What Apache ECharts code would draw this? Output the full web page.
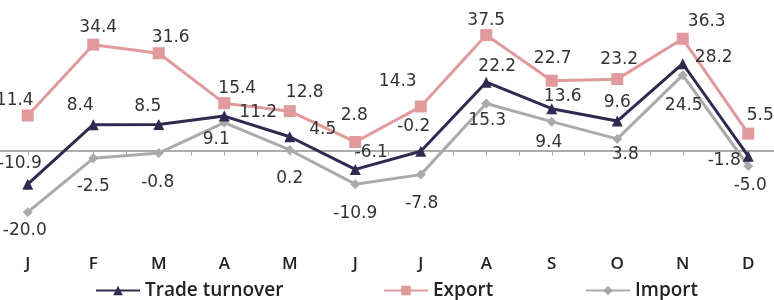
<!DOCTYPE html>
<html>
<head>
<meta charset="utf-8">
<script src="https://cdn.jsdelivr.net/npm/echarts@6/dist/echarts.min.js"></script>
<style>
  html, body { margin: 0; padding: 0; background: #fff; }
  #chart { width: 774px; height: 300px; }
</style>
</head>
<body>
<div id="chart"></div>
<script>
  const months = ['J', 'F', 'M', 'A', 'M', 'J', 'J', 'A', 'S', 'O', 'N', 'D']
  const exportVals = [11.4, 34.4, 31.6, 15.4, 12.8, 2.8, 14.3, 37.5, 22.7, 23.2, 36.3, 5.5]
  const turnoverVals = [-10.9, 8.4, 8.5, 11.2, 4.5, -6.1, -0.2, 22.2, 13.6, 9.6, 28.2, -1.8]
  const importVals = [-20.0, -2.5, -0.8, 9.1, 0.2, -10.9, -7.8, 15.3, 9.4, 3.8, 24.5, -5.0]

  // label nudges (px) relative to each point
  const exportOffsets = [[-13,-15],[5,-17],[12,-16],[13,-15],[15,-19],[-1,-26],[-23,-25],[0,-15],[1,-22],[2,-20],[24,-17],[12,-18]]
  const turnoverOffsets = [[-8,-21],[-13,-19],[-11,-18],[34,-4],[33,-7],[16,-17],[-7,-25],[11,-16],[11,-12],[0,-18],[31,-6],[-24,4]]
  const importOffsets = [[-3,18],[0,28],[-1,30],[-8,17],[0,29],[0,29],[1,29],[1,17],[-3,21],[8,16],[1,30],[2,20]]

  const withLabels = (vals, offs) => vals.map((v, i) => ({
    value: v,
    label: { offset: offs[i] }
  }))

  const labelStyle = {
    show: true,
    position: 'inside',
    color: '#333',
    fontFamily: 'DejaVu Sans',
    fontSize: 17,
    formatter: p => p.value.toFixed(1)
  }

  const legendText = { color: '#222', fontFamily: 'Open Sans', fontWeight: 600, fontSize: 19 }
  const axisGray = '#a8a8a8'

  const myChart = echarts.init(document.getElementById('chart'))
  const option = {
    animation: false,
    grid: { left: -5, right: -7, top: 12, bottom: 72.4, outerBoundsMode: 'none', containLabel: false },
    legend: [
      { data: ['Trade turnover'], left: 90, top: 276, itemWidth: 44, itemHeight: 12, textStyle: legendText },
      { data: ['Export'], left: 378, top: 276, itemWidth: 44, itemHeight: 12, textStyle: legendText },
      { data: ['Import'], left: 580, top: 276, itemWidth: 44, itemHeight: 12, textStyle: legendText }
    ],
    xAxis: [
      {
        // zero line with ticks at month centres
        type: 'category',
        data: months,
        boundaryGap: true,
        axisLine: { onZero: true, onZeroAxisIndex: 0, lineStyle: { color: axisGray, width: 1.5 } },
        axisTick: { show: true, alignWithLabel: true, length: 5, lineStyle: { color: axisGray } },
        axisLabel: { show: false }
      },
      {
        // ticks between months
        type: 'category',
        data: months,
        position: 'bottom',
        boundaryGap: true,
        axisLine: { onZero: true, onZeroAxisIndex: 0, lineStyle: { color: axisGray, width: 1.5 } },
        axisTick: { show: true, length: 5, lineStyle: { color: axisGray } },
        axisLabel: { show: false }
      },
      {
        // month letters along the bottom
        type: 'category',
        data: months,
        position: 'bottom',
        boundaryGap: true,
        axisLine: { show: false, onZero: false },
        axisTick: { show: false },
        axisLabel: { margin: 28, color: '#222', fontFamily: 'Open Sans', fontWeight: 600, fontSize: 17 }
      }
    ],
    yAxis: {
      type: 'value',
      min: -25,
      max: 45,
      show: false,
      splitLine: { show: false }
    },
    series: [
      {
        name: 'Trade turnover',
        type: 'line',
        data: withLabels(turnoverVals, turnoverOffsets),
        symbol: 'triangle',
        symbolSize: 11,
        itemStyle: { color: '#2e2a50' },
        lineStyle: { color: '#2e2a50', width: 3 },
        label: labelStyle,
        z: 4
      },
      {
        name: 'Export',
        type: 'line',
        data: withLabels(exportVals, exportOffsets),
        symbol: 'rect',
        symbolSize: 12,
        itemStyle: { color: '#e09a9b' },
        lineStyle: { color: '#e09a9b', width: 3 },
        label: labelStyle,
        z: 3
      },
      {
        name: 'Import',
        type: 'line',
        data: withLabels(importVals, importOffsets),
        symbol: 'diamond',
        symbolSize: 10,
        itemStyle: { color: '#aaaaaa' },
        lineStyle: { color: '#aaaaaa', width: 3 },
        label: labelStyle,
        z: 2
      }
    ]
  }
  myChart.setOption(option)
  window.addEventListener('resize', () => { myChart.resize() })
</script>
</body>
</html>
